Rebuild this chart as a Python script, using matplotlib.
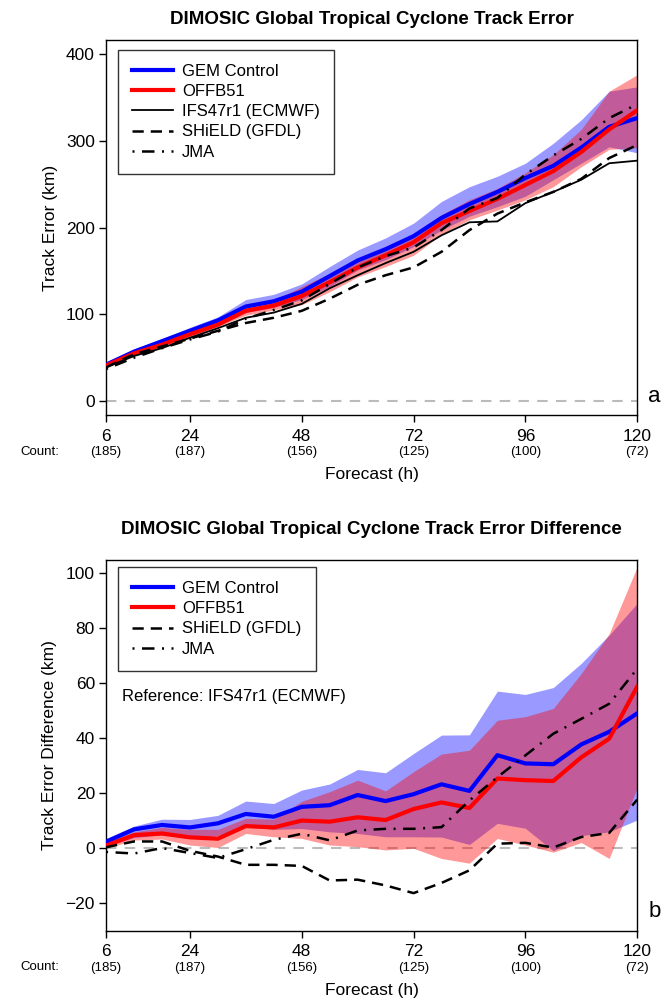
import matplotlib
matplotlib.use("Agg")
import matplotlib.pyplot as plt
from matplotlib.lines import Line2D

plt.rcParams['font.family'] = ['Liberation Sans', 'DejaVu Sans']
NARROW = ['Liberation Sans Narrow', 'Liberation Sans', 'DejaVu Sans']

# lead times (h)
hours = [6, 12, 18, 24, 30, 36, 42, 48, 54, 60, 66, 72, 78, 84, 90, 96, 102, 108, 114, 120]
tick_hours = [6, 24, 48, 72, 96, 120]
counts = [185, 187, 156, 125, 100, 72]

# track errors (km)
gem = [42, 57, 69, 81, 93, 109, 115, 126, 144, 162, 175, 190, 211, 227, 241, 257, 271, 292, 316, 326]
gem_lo = [40, 54, 65, 77, 89, 102, 108, 117, 132, 151, 163, 178, 197, 213, 224, 236, 255, 274, 293, 286]
gem_hi = [44, 60, 72, 85, 97, 117, 123, 135, 155, 174, 188, 205, 230, 247, 259, 274, 297, 324, 357, 362]
offb = [41, 55, 65, 77, 88, 104, 110, 121, 137, 154, 168, 183, 205, 219, 233, 249, 265, 287, 313, 335]
offb_lo = [38, 52, 63, 74, 86, 99, 105, 111, 126, 143, 155, 168, 192, 209, 220, 232, 247, 270, 290, 292]
offb_hi = [43, 57, 68, 80, 92, 108, 116, 132, 147, 163, 174, 193, 215, 232, 245, 263, 284, 313, 357, 376]
ifs = [39, 52, 61, 73, 84, 96, 102, 112, 130, 145, 159, 172, 191, 206, 207, 228, 241, 255, 274, 277]
shield = [39, 54, 63, 72, 81, 90, 96, 104, 118, 134, 145, 154, 172, 197, 216, 229, 241, 256, 280, 295]
jma = [37, 50, 61, 71, 80, 95, 105, 116, 135, 154, 167, 177, 197, 222, 234, 261, 283, 302, 326, 342]

# differences relative to IFS47r1 (km)
gem_d = [2.3, 6.8, 8.4, 7.5, 9.0, 12.4, 11.4, 15.0, 15.6, 19.3, 17.1, 19.6, 23.2, 20.8, 33.8, 30.8, 30.5, 37.7, 42.3, 49.0]
gem_d_lo = [0.8, 3.8, 4.8, 3.5, 4.5, 7.8, 6.8, 7.1, 5.9, 5.3, 4.1, 4.1, 4.0, 1.3, 9.0, 7.2, -1.0, 4.5, 5.9, 10.2]
gem_d_hi = [3.5, 8.0, 10.5, 10.4, 11.9, 17.1, 16.2, 21.1, 23.3, 28.6, 27.4, 34.4, 41.1, 41.2, 57.1, 55.9, 58.4, 67.2, 77.5, 89.0]
offb_d = [0.9, 4.7, 5.3, 3.9, 3.4, 8.0, 7.5, 10.0, 9.6, 11.2, 10.2, 14.2, 16.6, 14.6, 25.3, 24.7, 24.4, 33.0, 39.8, 58.7]
offb_d_lo = [0.0, 2.9, 3.3, 1.1, 0.2, 5.3, 4.1, 3.5, 1.1, 0.5, -0.7, -0.1, -3.8, -5.5, 3.5, 1.1, -1.5, 2.0, -3.8, 22.0]
offb_d_hi = [2.0, 5.9, 7.5, 6.8, 6.8, 10.8, 10.5, 17.0, 20.5, 24.7, 20.8, 27.8, 34.2, 35.6, 46.5, 47.8, 50.8, 63.5, 78.0, 102.3]
shield_d = [0.3, 2.4, 2.4, -1.0, -3.1, -6.1, -6.1, -6.5, -11.8, -11.5, -13.6, -16.4, -12.7, -8.1, 1.6, 1.9, 0.2, 4.0, 5.5, 17.6]
jma_d = [-1.4, -2.0, 0.0, -1.8, -3.6, -0.4, 3.0, 5.2, 2.8, 6.4, 7.0, 7.0, 7.6, 17.3, 25.8, 33.7, 41.6, 47.0, 52.5, 65.2]

DASH = (0, (4.5, 2.8))
DASHDOT = (0, (0.8, 3.0, 5.0, 3.0))


def setup_axes(ax, ylim, yticks, ylabel, letter):
    ax.set_xlim(6, 120)
    ax.set_ylim(*ylim)
    ax.set_yticks(yticks)
    ax.set_xticks(tick_hours)
    ax.set_xticklabels([str(h) for h in tick_hours], fontsize=12.5, family=NARROW)
    ax.tick_params(direction='out', length=5, width=1, labelsize=12.5, pad=3)
    ax.tick_params(axis='x', pad=5)
    ax.axhline(0, color='#bbbbbb', lw=1.5, ls=(0, (5, 4)), zorder=1)
    ax.set_ylabel(ylabel, fontsize=12.5, labelpad=6)
    ax.set_xlabel('Forecast (h)', fontsize=12.5, family=NARROW, labelpad=17)
    for h, c in zip(tick_hours, counts):
        ax.annotate(f'({c})', xy=(h, 0), xycoords=('data', 'axes fraction'),
                    xytext=(0, -37), textcoords='offset pixels',
                    ha='center', va='center', fontsize=9.5, family=NARROW)
    ax.annotate('Count:', xy=(0, 0), xycoords='axes fraction',
                xytext=(-66, -37), textcoords='offset pixels',
                ha='center', va='center', fontsize=9.5, family=NARROW)
    ax.annotate(letter, xy=(1, 0.05), xycoords='axes fraction',
                xytext=(11, 0), textcoords='offset pixels',
                ha='left', va='center', fontsize=16)
    for s in ax.spines.values():
        s.set_linewidth(1.0)


def bands_and_lines(ax, g, glo, ghi, o, olo, ohi):
    ax.fill_between(hours, glo, ghi, color='blue', alpha=0.4, lw=0, zorder=2)
    ax.fill_between(hours, olo, ohi, color='red', alpha=0.4, lw=0, zorder=2)
    ax.plot(hours, g, color='blue', lw=3, zorder=3)
    ax.plot(hours, o, color='red', lw=3, zorder=3)


def add_legend(ax, handles, labels, top):
    leg = ax.legend(handles, labels, loc='upper left', bbox_to_anchor=(0.0226, top),
                    borderaxespad=0, fontsize=12, fancybox=False, edgecolor='#333333',
                    framealpha=1, handlelength=2.45, handletextpad=0.55,
                    labelspacing=0.31, borderpad=0.85)
    leg.get_frame().set_linewidth(1.0)
    return leg


fig = plt.figure(figsize=(6.63, 10), dpi=100)

# track error
ax1 = fig.add_axes([0.16, 0.585, 0.801, 0.375])
bands_and_lines(ax1, gem, gem_lo, gem_hi, offb, offb_lo, offb_hi)
ax1.plot(hours, ifs, color='black', lw=1.3, zorder=4)
ax1.plot(hours, shield, color='black', lw=1.8, ls=DASH, zorder=4)
ax1.plot(hours, jma, color='black', lw=1.8, ls=DASHDOT, zorder=4)
setup_axes(ax1, (-16, 416), [0, 100, 200, 300, 400], 'Track Error (km)', 'a')

h1 = [Line2D([], [], color='blue', lw=3),
      Line2D([], [], color='red', lw=3),
      Line2D([], [], color='black', lw=1.3),
      Line2D([], [], color='black', lw=1.8, ls=DASH),
      Line2D([], [], color='black', lw=1.8, ls=DASHDOT)]
l1 = ['GEM Control', 'OFFB51', 'IFS47r1 (ECMWF)', 'SHiELD (GFDL)', 'JMA']
add_legend(ax1, h1, l1, 0.974)

fig.text(0.5605, 0.981, 'DIMOSIC Global Tropical Cyclone Track Error',
         ha='center', va='center', fontsize=13.5, fontweight='bold')

# difference vs IFS
ax2 = fig.add_axes([0.16, 0.0695, 0.801, 0.371])
bands_and_lines(ax2, gem_d, gem_d_lo, gem_d_hi, offb_d, offb_d_lo, offb_d_hi)
ax2.plot(hours, shield_d, color='black', lw=1.8, ls=DASH, zorder=4)
ax2.plot(hours, jma_d, color='black', lw=1.8, ls=DASHDOT, zorder=4)
setup_axes(ax2, (-30, 105), [-20, 0, 20, 40, 60, 80, 100],
           'Track Error Difference (km)', 'b')

h2 = [h1[0], h1[1], h1[3], h1[4]]
l2 = ['GEM Control', 'OFFB51', 'SHiELD (GFDL)', 'JMA']
add_legend(ax2, h2, l2, 0.98)
ax2.text(0.03, 0.63, 'Reference: IFS47r1 (ECMWF)', transform=ax2.transAxes,
         fontsize=12, ha='left', va='center')

fig.text(0.5605, 0.47, 'DIMOSIC Global Tropical Cyclone Track Error Difference',
         ha='center', va='center', fontsize=13.5, fontweight='bold')

fig.savefig('out.png', dpi=100)
